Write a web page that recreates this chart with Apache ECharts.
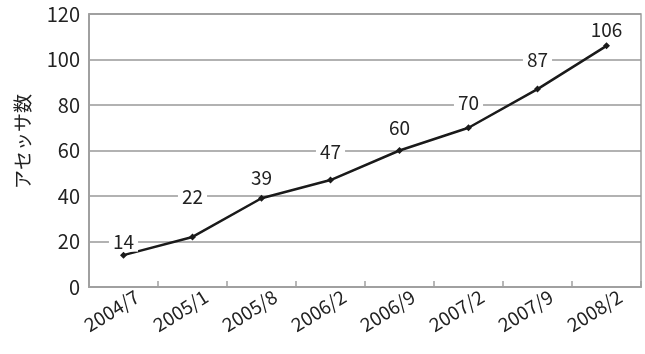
<!DOCTYPE html>
<html><head><meta charset="utf-8">
<script src="https://cdn.jsdelivr.net/npm/echarts@6/dist/echarts.min.js"></script>
<style>html,body{margin:0;padding:0;background:#fff}#c{width:645px;height:354px}</style>
</head><body><div id="c"></div>
<script>
var categories = ['2004/7','2005/1','2005/8','2006/2','2006/9','2007/2','2007/9','2008/2'];
var values = [14,22,39,47,60,70,87,106];
var yTicks = [0,20,40,60,80,100,120];
var yName = 'アセッサ数';
// label vertical offsets (px, style only) as placed in the reference
var labelShift = [-13,-40,-20,-28,-23,-25,-29,-16];
var font = '"Noto Sans CJK JP", "Noto Sans", sans-serif';
var chart = echarts.init(document.getElementById('c'), null, {renderer:'canvas'});
var seriesData = values.map(function(v,i){
  return {value:v,label:{offset:[0,labelShift[i]]}};
});
chart.setOption({
  animation:false,
  backgroundColor:'#fff',
  grid:{left:89,right:4,top:14,bottom:67,containLabel:false,show:true,borderColor:'#a0a0a0',borderWidth:1.5},
  xAxis:{type:'category',data:categories,boundaryGap:true,
    axisLine:{lineStyle:{color:'#a0a0a0',width:2}},
    axisTick:{show:true,inside:true,length:6,lineStyle:{color:'#a0a0a0',width:1.5}},
    axisLabel:{rotate:32,fontFamily:font,fontSize:19,color:'#222',margin:5,interval:0,
      verticalAlign:'top',padding:[0,-10,0,0]}},
  yAxis:{type:'value',min:yTicks[0],max:yTicks[yTicks.length-1],interval:20,
    name:yName,nameLocation:'middle',nameRotate:90,nameGap:57,
    nameTextStyle:{fontFamily:font,fontSize:19,color:'#222',padding:[0,0,0,18]},
    axisLine:{show:true,lineStyle:{color:'#a0a0a0',width:2}},
    axisTick:{show:false},
    axisLabel:{fontFamily:font,fontSize:20,color:'#222',margin:9},
    splitLine:{lineStyle:{color:'#999',width:1.5}}},
  series:[{type:'line',data:seriesData,symbol:'diamond',symbolSize:7,
    lineStyle:{color:'#1a1a1a',width:2.5},itemStyle:{color:'#1a1a1a'},
    label:{show:true,position:'inside',fontFamily:font,fontSize:19,color:'#222',
      backgroundColor:'#fff',padding:[0,4]}}]
});
</script></body></html>
